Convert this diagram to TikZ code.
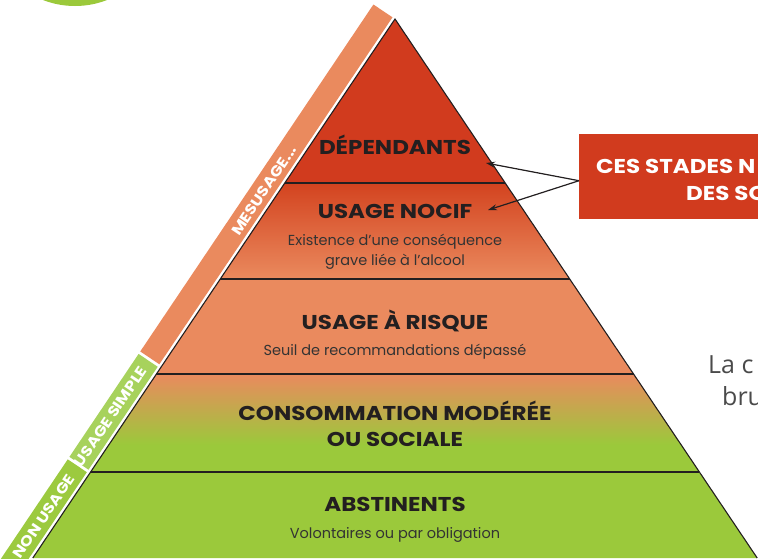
\documentclass[tikz,border=0pt]{standalone}
\usepackage{fontspec}
\setmainfont{Poppins}
\newfontfamily\widefont{Poppins}[FakeStretch=1.15]
\newfontfamily\sidefont{Open Sans}
\usetikzlibrary{arrows.meta,calc}
\definecolor{redA}{HTML}{D13B1E}
\definecolor{nocifTop}{HTML}{D3431F}
\definecolor{salmon}{HTML}{EA8A5E}
\definecolor{greenA}{HTML}{9BC93B}
\definecolor{greenB}{HTML}{A7D25C}
\definecolor{greenC}{HTML}{9CCA3F}
\definecolor{ink}{HTML}{231F20}
\definecolor{subink}{HTML}{333333}
\definecolor{sidegray}{HTML}{4A4A4A}
\pgfdeclareverticalshading{consoshade}{100bp}{color(0bp)=(greenA); color(39bp)=(greenA); color(75bp)=(salmon); color(100bp)=(salmon)}
\begin{document}
\begin{tikzpicture}[x=1pt,y=-1pt,
  title/.style={font=\widefont\fontsize{20}{24}\selectfont\bfseries, text=ink, inner sep=0pt, anchor=base},
  subtitle/.style={font=\fontsize{14.5}{17}\selectfont, text=subink, inner sep=0pt, anchor=base},
  bandtext/.style={font=\widefont\fontsize{14.5}{16}\selectfont\bfseries, text=white, rotate=56.1, inner sep=0pt},
  boxtext/.style={font=\widefont\fontsize{20}{24}\selectfont\bfseries, text=white, inner sep=0pt, anchor=base west},
  sidetext/.style={font=\sidefont\fontsize{25}{30}\selectfont, text=sidegray, inner sep=0pt, anchor=base west},
  edgeline/.style={draw=ink, line width=1.1pt},
  pointer/.style={draw=ink, line width=1.2pt, -{Stealth[length=9pt,width=6pt]}},
]
\useasboundingbox (0,0) rectangle (758,558);
\begin{scope}
\clip (0,0) rectangle (758,558);
% green circle top-left
\fill[greenA] (75,-82) circle[radius=88pt];
% pyramid layers
\fill[redA] (395,19) -- (505.2,183) -- (284.8,183) -- cycle;
\fill[top color=nocifTop, bottom color=salmon] (284.8,183) -- (505.2,183) -- (569.7,279) -- (220.3,279) -- cycle;
\fill[salmon] (220.3,279) -- (569.7,279) -- (633.6,374) -- (156.4,374) -- cycle;
\fill[shading=consoshade] (156.4,374) -- (633.6,374) -- (699.4,472) -- (90.6,472) -- cycle;
\fill[greenA] (90.6,472) -- (699.4,472) -- (757.2,558) -- (32.8,558) -- cycle;
% outline and boundaries
\draw[edgeline] (32.8,558) -- (395,19) -- (757.2,558);
\draw[edgeline] (284.8,183) -- (505.2,183);
\draw[edgeline] (220.3,279) -- (569.7,279);
\draw[edgeline] (156.4,374) -- (633.6,374);
\draw[edgeline] (90.6,472) -- (699.4,472);
% side band
\fill[salmon] (392.51,17.33) -- (373.42,4.50) -- (140.26,351.44) -- (159.35,364.27) -- cycle;
\fill[greenB] (157.68,366.76) -- (138.59,353.93) -- (69.42,456.85) -- (88.51,469.68) -- cycle;
\fill[greenC] (86.84,472.17) -- (67.75,459.34) -- (-28.2,602.1) -- (-9.1,614.9) -- cycle;
\node[bandtext] (mes) at (264.0,190.5) {MESUSAGE...};
\node[bandtext] (simple) at (110.5,416.5) {USAGE SIMPLE};
\node[bandtext] (nonu) at (44.0,516.5) {NON USAGE};
% layer texts
\node[title] (dep) at (395,154) {DÉPENDANTS};
\node[title] (nocif) at (395,218) {USAGE NOCIF};
\node[subtitle] (nocifA) at (395,245) {Existence d’une conséquence};
\node[subtitle] (nocifB) at (395,265) {grave liée à l’alcool};
\node[title] (risque) at (395,329) {USAGE À RISQUE};
\node[subtitle] (risqueA) at (395,355) {Seuil de recommandations dépassé};
\node[title] (consoA) at (395,420) {CONSOMMATION MODÉRÉE};
\node[title] (consoB) at (395,446) {OU SOCIALE};
\node[title] (abst) at (395,511) {ABSTINENTS};
\node[subtitle] (abstA) at (395,538) {Volontaires ou par obligation};
% red box
\node[fill=redA, minimum width=220pt, minimum height=85pt, anchor=north west, inner sep=0pt] (box) at (579,134) {};
\node[boxtext] (boxA) at (596,173) {CES STADES N};
\node[boxtext] (boxB) at (686,200) {DES SO};
\coordinate (tipA) at (486,163);
\coordinate (tipB) at (488,210);
\draw[pointer] ($(box.west)+(0,4)$) -- (tipA);
\draw[pointer] ($(box.west)+(0,4)$) -- (tipB);
% side text
\node[sidetext] (sideA) at (708,373) {La c};
\node[sidetext] (sideB) at (722,405) {bru};
\end{scope}
\end{tikzpicture}
\end{document}
